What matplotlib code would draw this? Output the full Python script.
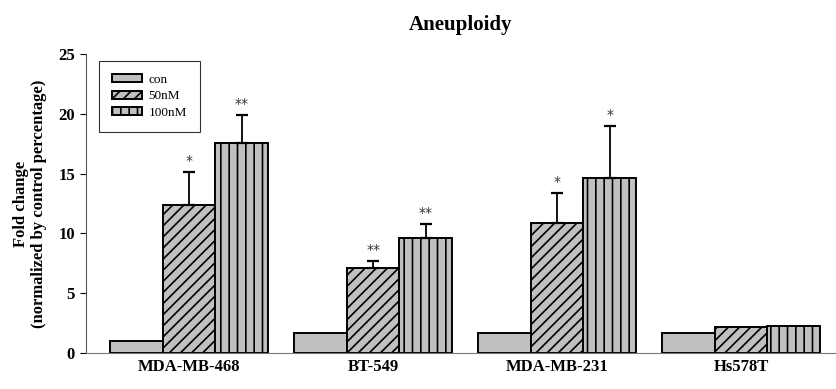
import matplotlib
matplotlib.use("Agg")
import matplotlib.pyplot as plt
import numpy as np

plt.rcParams['font.family'] = ['Liberation Serif', 'DejaVu Serif']
plt.rcParams['hatch.linewidth'] = 1.2

cells = ["MDA-MB-468", "BT-549", "MDA-MB-231", "Hs578T"]
series = ["con", "50nM", "100nM"]
con = [1.0, 1.65, 1.65, 1.65]
nm50 = [12.37, 7.13, 10.84, 2.15]
nm100 = [17.58, 9.64, 14.66, 2.28]
err50 = [2.73, 0.56, 2.51, 0]
err100 = [2.32, 1.12, 4.32, 0]
stars50 = ["*", "**", "*", ""]
stars100 = ["**", "**", "*", ""]

fig = plt.figure(figsize=(8.37, 3.89), dpi=100)
ax = fig.add_axes([86/837, 36/389, 749/837, 299/389])

x = np.arange(len(cells))
w = 0.285
fill = "#c0c0c0"
ax.bar(x - w, con, w, color=fill, edgecolor="black", linewidth=1.4, label=series[0])
ax.bar(x, nm50, w, color=fill, edgecolor="black", linewidth=1.4, hatch="///", label=series[1])
ax.bar(x + w, nm100, w, color=fill, edgecolor="black", linewidth=1.4, hatch="||", label=series[2])

for xs, vals, errs, stars in [(x, nm50, err50, stars50), (x + w, nm100, err100, stars100)]:
    for xi, v, e, s in zip(xs, vals, errs, stars):
        if e > 0:
            ax.errorbar(xi, v, yerr=[[0], [e]], color="black", lw=1.3, capsize=4, capthick=1.6)
        if s:
            ax.text(xi, v + e + 0.35, s, ha="center", va="bottom", fontsize=10, color="#333333",
                    family="DejaVu Sans")

ax.set_ylim(0, 25)
ax.set_xlim(-0.56, 3.51)
ax.set_yticks([0, 5, 10, 15, 20, 25])
ax.set_xticks(x)
ax.set_xticklabels(cells, fontsize=12, fontweight="bold")
ax.tick_params(axis="x", length=0, pad=4)
ax.tick_params(axis="y", direction="out", length=4, labelsize=12, pad=4)
for t in ax.get_yticklabels():
    t.set_fontweight("bold")
ax.spines["top"].set_visible(False)
ax.spines["right"].set_visible(False)
ax.spines["bottom"].set_color("#777777")
ax.spines["left"].set_color("#555555")

ax.set_ylabel("Fold change\n(normalized by control percentage)", fontsize=12, fontweight="bold", labelpad=8)
fig.text(0.55, 0.937, "Aneuploidy", ha="center", va="center", fontsize=15, fontweight="bold")

leg = ax.legend(loc="upper left", bbox_to_anchor=(0.008, 1.0), fontsize=9.5, frameon=True,
                fancybox=False, edgecolor="black", handlelength=2.3, handleheight=0.55,
                handletextpad=0.5, labelspacing=0.35, borderpad=1.0)
leg.get_frame().set_linewidth(0.8)

fig.savefig("out.png", dpi=100)
